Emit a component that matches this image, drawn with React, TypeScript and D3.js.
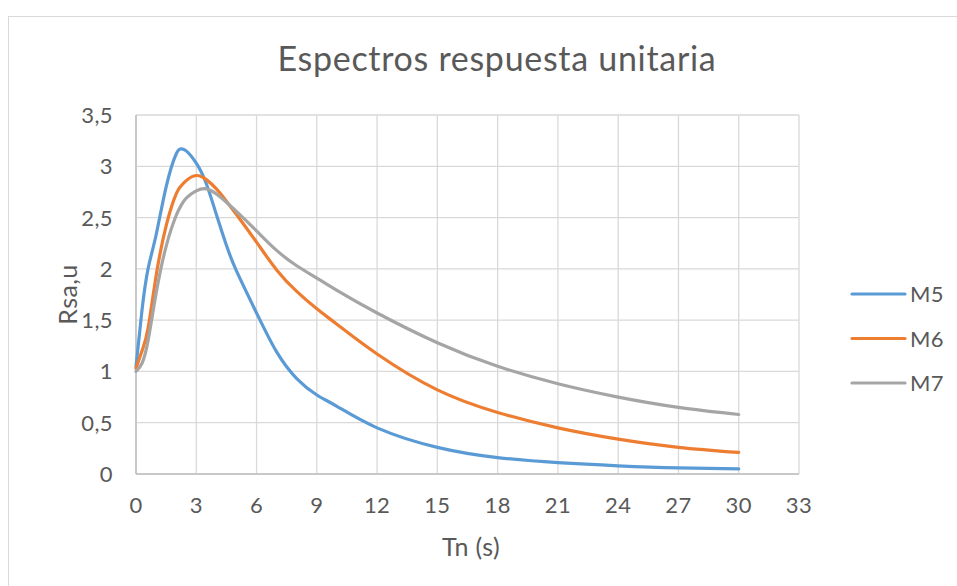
import * as d3 from "d3";

const W = 957;
const H = 586;

const periods = [0, 0.3, 0.6, 1, 1.5, 2, 2.25, 2.5, 3, 3.5, 4, 4.5, 5, 6, 7, 8, 9, 10, 12, 15, 18, 21, 24, 27, 30];
const m5 = [1.05, 1.6, 2.0, 2.33, 2.8, 3.12, 3.17, 3.15, 3.03, 2.83, 2.53, 2.23, 1.98, 1.57, 1.19, 0.93, 0.77, 0.66, 0.45, 0.26, 0.16, 0.11, 0.08, 0.06, 0.05];
const m6 = [1.03, 1.2, 1.42, 1.93, 2.42, 2.73, 2.81, 2.86, 2.91, 2.87, 2.78, 2.66, 2.53, 2.26, 1.99, 1.78, 1.61, 1.46, 1.17, 0.82, 0.6, 0.45, 0.34, 0.26, 0.21];
const m7 = [1.0, 1.08, 1.3, 1.76, 2.22, 2.52, 2.62, 2.69, 2.76, 2.78, 2.73, 2.65, 2.56, 2.37, 2.18, 2.03, 1.91, 1.79, 1.57, 1.28, 1.05, 0.88, 0.75, 0.65, 0.58];

const seriesNames = ["M5", "M6", "M7"];
const seriesValues = [m5, m6, m7];
const seriesColors = ["#5B9BD5", "#ED7D31", "#A5A5A5"];

const xTicks = d3.range(0, 34, 3);
const yTicks = d3.range(0, 3.51, 0.5);

const FONT = "Lato, 'Open Sans', sans-serif";
const TEXT = "#595959";

export default function App() {
  const x = d3.scaleLinear().domain([0, 33]).range([136, 799]);
  const y = d3.scaleLinear().domain([0, 3.5]).range([474, 115]);
  const fmt = (v: number) => String(v).replace(".", ",");

  const line = d3
    .line<[number, number]>()
    .x((d) => x(d[0]))
    .y((d) => y(d[1]))
    .curve(d3.curveNatural);

  return (
    <svg
      width={W}
      height={H}
      style={{ position: "absolute", left: 0, top: 0, background: "#fff" }}
      fontFamily={FONT}
    >
      <rect x={8.5} y={16.5} width={W + 10} height={H + 10} fill="#fff" stroke="#D9D9D9" />
      <text x={497} y={71} textAnchor="middle" fontSize={34} letterSpacing={0.7} fill={TEXT}>
        Espectros respuesta unitaria
      </text>

      {yTicks.map((t) => (
        <line key={"gy" + t} x1={x(0)} x2={x(33)} y1={y(t)} y2={y(t)} stroke="#D9D9D9" strokeWidth={1.3} />
      ))}
      {xTicks.map((t) => (
        <line key={"gx" + t} x1={x(t)} x2={x(t)} y1={y(0)} y2={y(3.5)} stroke="#D9D9D9" strokeWidth={1.3} />
      ))}
      <line x1={x(0)} x2={x(0)} y1={y(0)} y2={y(3.5)} stroke="#BFBFBF" strokeWidth={1.5} />
      <line x1={x(0)} x2={x(33)} y1={y(0)} y2={y(0)} stroke="#BFBFBF" strokeWidth={1.5} />

      {yTicks.map((t) => (
        <text key={"ly" + t} x={113} y={y(t) + 8} textAnchor="end" fontSize={22} letterSpacing={0.4} fill={TEXT}>
          {fmt(t)}
        </text>
      ))}
      {xTicks.map((t) => (
        <text key={"lx" + t} x={x(t)} y={513} textAnchor="middle" fontSize={22} letterSpacing={0.4} fill={TEXT}>
          {t}
        </text>
      ))}

      <text x={471} y={556} textAnchor="middle" fontSize={25} letterSpacing={0.4} fill={TEXT}>
        Tn (s)
      </text>
      <text
        transform={`translate(77, ${(y(0) + y(3.5)) / 2}) rotate(-90)`}
        textAnchor="middle"
        fontSize={25}
        letterSpacing={0.4}
        fill={TEXT}
      >
        Rsa,u
      </text>

      {seriesValues.map((vals, i) => (
        <path
          key={seriesNames[i]}
          d={line(periods.map((p, j) => [p, vals[j]] as [number, number])) ?? ""}
          fill="none"
          stroke={seriesColors[i]}
          strokeWidth={3.2}
          strokeLinecap="round"
          strokeLinejoin="round"
        />
      ))}

      {seriesNames.map((name, i) => {
        const ly = 294 + i * 44.5;
        return (
          <g key={"lg" + name}>
            <line x1={852} x2={905} y1={ly} y2={ly} stroke={seriesColors[i]} strokeWidth={3.2} strokeLinecap="round" />
            <text x={910} y={ly + 8} fontSize={22} letterSpacing={0.4} fill={TEXT}>
              {name}
            </text>
          </g>
        );
      })}
    </svg>
  );
}
